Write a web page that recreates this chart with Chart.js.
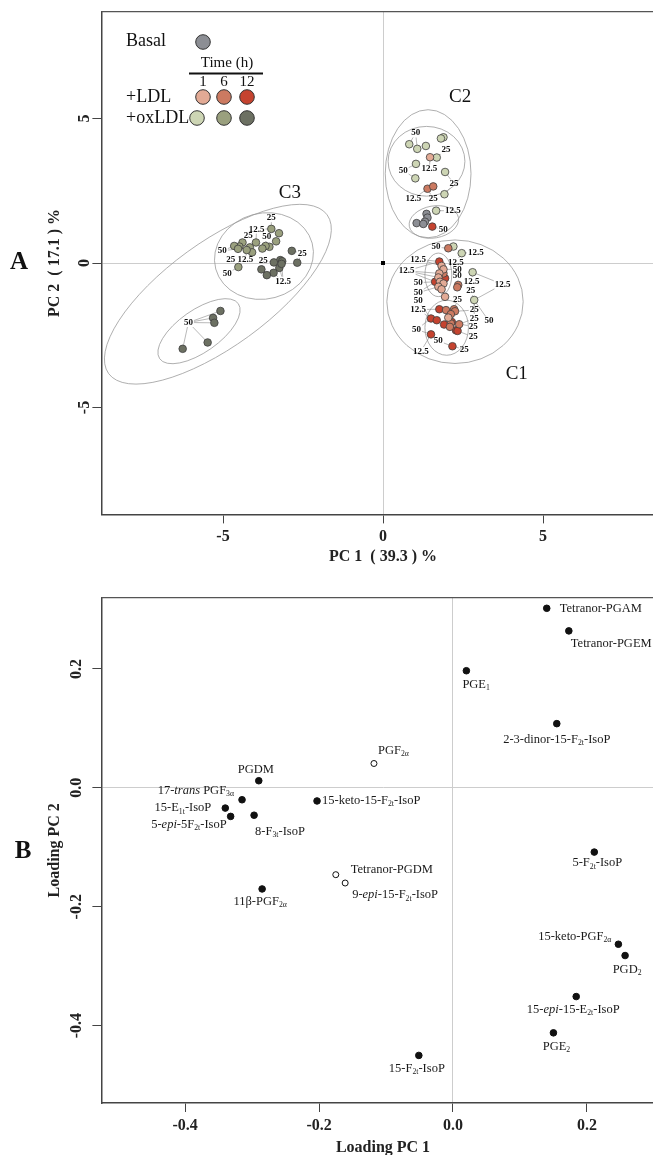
<!DOCTYPE html>
<html>
<head>
<meta charset="utf-8">
<script src="https://cdn.jsdelivr.net/npm/chart.js@4.4.0/dist/chart.umd.min.js"></script>
<style>
    html, body { margin: 0; padding: 0; background: #fff; overflow: hidden; width: 653px; height: 1155px; }
    .box { position: absolute; left: 0; width: 680px; height: 580px; }
    #boxA { top: 0; }
    #boxB { top: 585px; }
</style>
</head>
<body>
<div class="box" id="boxA"><canvas id="chartA"></canvas></div>
<div class="box" id="boxB"><canvas id="chartB"></canvas></div>
<script>
//Scores de l'ACP (panneau A), un tableau par groupe
const ptsBasal = [[1.36, 1.70], [1.39, 1.57], [1.31, 1.43], [1.05, 1.38], [1.26, 1.35]];
const ptsLDL1 = [[1.47, 3.66], [1.83, -0.10], [1.89, -0.22], [1.76, -0.36], [1.73, -0.50], [1.78, -0.65], [1.89, -0.71], [1.73, -0.82], [1.83, -0.91], [1.94, -1.17], [2.04, -1.89]];
const ptsLDL6 = [[1.39, 2.57], [1.57, 2.65], [2.04, 0.51], [1.89, -0.36], [2.35, -0.76], [2.32, -0.84], [1.97, -1.63], [2.22, -1.60], [2.25, -1.67], [2.12, -1.77], [2.12, -2.09], [2.09, -2.21], [2.38, -2.12]];
const ptsLDL12 = [[1.54, 1.26], [1.76, 0.05], [1.94, -0.53], [1.63, -0.65], [1.76, -1.60], [1.50, -1.92], [1.68, -1.98], [2.15, -2.04], [1.91, -2.13], [2.28, -2.33], [2.33, -2.35], [1.50, -2.47], [2.17, -2.88]];
const ptsOx1 = [[1.89, 4.35], [1.81, 4.31], [0.82, 4.11], [1.07, 3.95], [1.34, 4.05], [1.68, 3.65], [1.03, 3.43], [1.01, 2.93], [1.94, 3.15], [1.92, 2.38], [1.66, 1.81], [2.20, 0.57], [2.46, 0.34], [2.80, -0.32], [2.85, -1.28]];
const ptsOx6 = [[-3.49, 1.18], [-3.25, 1.03], [-3.34, 0.75], [-3.55, 0.56], [-3.67, 0.59], [-3.77, 0.50], [-3.97, 0.71], [-4.16, 0.54], [-4.09, 0.37], [-4.39, 0.71], [-4.49, 0.57], [-4.65, 0.59], [-4.53, 0.49], [-4.52, -0.14], [-4.26, 0.45]];
const ptsOx12 = [[-2.85, 0.42], [-2.68, 0.01], [-3.21, 0.10], [-3.41, 0.02], [-3.15, 0.06], [-3.24, -0.17], [-3.42, -0.34], [-3.63, -0.42], [-3.80, -0.22], [-3.17, -0.03], [-5.08, -1.66], [-5.31, -1.90], [-5.27, -2.07], [-5.48, -2.75], [-6.26, -2.97]];

const groupNames = ['Basal', '+LDL 1 h', '+LDL 6 h', '+LDL 12 h', '+oxLDL 1 h', '+oxLDL 6 h', '+oxLDL 12 h'];
const groupPoints = [ptsBasal, ptsLDL1, ptsLDL6, ptsLDL12, ptsOx1, ptsOx6, ptsOx12];
const groupColors = ['#8c8e94', '#e2aa95', '#cc7a61', '#c5432f', '#cdd5b4', '#9aa07e', '#6c7062'];

//Légende et étiquettes de concentration : [texte, x, y, nombre de traits]
const legendRows = ['Basal', '+LDL', '+oxLDL'];
const timeLabels = ['1', '6', '12'];
const doseLabels = [
    ['25', -3.49, 1.57, 1], ['12.5', -3.95, 1.17, 2], ['25', -4.21, 0.94, 2], ['50', -3.63, 0.91, 2],
    ['50', -5.02, 0.42, 2], ['25', -4.76, 0.13, 1], ['12.5', -4.30, 0.10, 2], ['50', -4.87, -0.36, 1],
    ['25', -3.74, 0.08, 2], ['25', -2.52, 0.34, 2], ['12.5', -3.12, -0.63, 3], ['50', -6.08, -2.06, 5],
    ['50', 1.02, 4.50, 2], ['25', 1.97, 3.92, 1], ['50', 0.63, 3.20, 2], ['12.5', 1.45, 3.25, 1],
    ['25', 2.22, 2.74, 2], ['12.5', 0.95, 2.22, 1], ['25', 1.57, 2.22, 1], ['12.5', 2.18, 1.81, 1], ['50', 1.88, 1.15, 1],
    ['50', 1.66, 0.55, 1], ['12.5', 2.90, 0.37, 1], ['12.5', 1.10, 0.13, 2], ['12.5', 2.28, 0.02, 1],
    ['12.5', 0.74, -0.27, 4], ['50', 2.32, -0.22, 1], ['50', 2.32, -0.45, 1], ['50', 1.10, -0.68, 1],
    ['12.5', 2.77, -0.63, 1], ['12.5', 3.74, -0.74, 2], ['25', 2.74, -0.96, 1], ['50', 1.10, -1.03, 2],
    ['50', 1.10, -1.32, 1], ['25', 2.33, -1.26, 1], ['12.5', 1.10, -1.61, 2], ['25', 2.85, -1.63, 2],
    ['25', 2.85, -1.92, 2], ['50', 3.31, -2.01, 1], ['25', 2.82, -2.19, 1], ['50', 1.05, -2.30, 2],
    ['25', 2.82, -2.56, 1], ['50', 1.73, -2.70, 2], ['12.5', 1.18, -3.06, 1], ['25', 2.54, -2.99, 1]
];

//Groupes C1, C2, C3 : nom, position, ellipses [cx, cy, demi-axe a, demi-axe b, rotation en degrés]
const clusterNames = ['C1', 'C2', 'C3'];
const clusterPos = [[4.18, -3.83], [2.41, 5.73], [-2.91, 2.42]];
const ellipses = [
    [-5.16, -1.08, 4.22, 1.63, 36], [-3.72, 0.24, 1.56, 1.34, 15], [-5.75, -2.36, 1.50, 0.66, 35],
    [1.41, 3.09, 1.34, 2.00, 0], [1.36, 3.52, 1.20, 1.09, 0], [1.59, 1.42, 0.78, 0.50, 10],
    [2.25, -1.34, 2.13, 1.93, 0], [1.73, -0.41, 0.42, 0.68, 0], [1.99, -2.24, 0.68, 0.86, 0]
];

//Loadings (panneau B)
const loadNames = ['Tetranor-PGAM', 'Tetranor-PGEM', 'PGE<sub>1</sub>', '2-3-dinor-15-F<sub>2t</sub>-IsoP', 'PGF<sub>2α</sub>',
    'PGDM', '17-<i>trans</i> PGF<sub>3α</sub>', '15-keto-15-F<sub>2t</sub>-IsoP', '15-E<sub>1t</sub>-IsoP', '5-<i>epi</i>-5F<sub>2t</sub>-IsoP',
    '8-F<sub>3t</sub>-IsoP', '5-F<sub>2t</sub>-IsoP', 'Tetranor-PGDM', '9-<i>epi</i>-15-F<sub>2t</sub>-IsoP', '11β-PGF<sub>2α</sub>',
    '15-keto-PGF<sub>2α</sub>', 'PGD<sub>2</sub>', '15-<i>epi</i>-15-E<sub>2t</sub>-IsoP', 'PGE<sub>2</sub>', '15-F<sub>2t</sub>-IsoP'];
const loadPC1 = [0.140, 0.173, 0.020, 0.155, -0.118, -0.290, -0.315, -0.203, -0.340, -0.332, -0.297, 0.211, -0.175, -0.161, -0.285, 0.247, 0.257, 0.184, 0.150, -0.051];
const loadPC2 = [0.302, 0.264, 0.197, 0.108, 0.041, 0.012, -0.020, -0.022, -0.034, -0.048, -0.046, -0.108, -0.146, -0.160, -0.170, -0.263, -0.282, -0.351, -0.412, -0.450];
const loadOpen = [0, 0, 0, 0, 1, 0, 0, 0, 0, 0, 0, 0, 1, 1, 0, 0, 0, 0, 0, 0];

//Graduations
const xTicksA = [-5, 0, 5];
const yTicksA = [-5, 0, 5];
const xTicksB = [-0.4, -0.2, 0, 0.2];
const yTicksB = [-0.4, -0.2, 0, 0.2];

//Placement des étiquettes du panneau B (décalage en px, alignement)
const labelOffsets = [[13, 0, 'left'], [2, 13, 'left'], [-4, 14, 'left'], [0, 16, 'center'], [4, -13, 'left'],
    [-3, -11, 'center'], [-8, -9, 'right'], [5, 0, 'left'], [-14, 0, 'right'], [-4, 8, 'right'],
    [1, 16, 'left'], [3, 11, 'center'], [15, -5, 'left'], [7, 12, 'left'], [-2, 13, 'center'],
    [-7, -8, 'right'], [2, 14, 'center'], [-3, 13, 'center'], [3, 14, 'center'], [-2, 13, 'center']];

const serif = '"Liberation Serif", "Times New Roman", serif';
Chart.defaults.font.family = serif;
const tickFont = {family: serif, size: 16, weight: 'bold'};
const titleFont = {family: serif, size: 16, weight: 'bold'};

function zeroGrid(c) {
    return c.tick && c.tick.value === 0 ? '#cdcdcd' : 'rgba(0,0,0,0)';
}

//Texte avec indices et italiques
function drawRich(ctx, str, x, y, align, size) {
    let parts = [];
    let re = /<(sub|i)>(.*?)<\/\1>/g;
    let last = 0, m;
    while ((m = re.exec(str))) {
        if (m.index > last) parts.push({t: str.slice(last, m.index), k: ''});
        parts.push({t: m[2], k: m[1]});
        last = re.lastIndex;
    }
    if (last < str.length) parts.push({t: str.slice(last), k: ''});
    let fontOf = k => k === 'sub' ? (size * 0.62) + 'px ' + serif : (k === 'i' ? 'italic ' : '') + size + 'px ' + serif;
    let w = 0;
    parts.forEach(p => { ctx.font = fontOf(p.k); p.w = ctx.measureText(p.t).width; w += p.w; });
    let cx = align === 'left' ? x : (align === 'right' ? x - w : x - w / 2);
    ctx.textAlign = 'left';
    ctx.textBaseline = 'middle';
    parts.forEach(p => {
        ctx.font = fontOf(p.k);
        ctx.fillText(p.t, cx, y + (p.k === 'sub' ? size * 0.28 : 0));
        cx += p.w;
    });
}

function circle(ctx, x, y, r, color) {
    ctx.beginPath();
    ctx.arc(x, y, r, 0, 2 * Math.PI);
    ctx.fillStyle = color;
    ctx.fill();
    ctx.strokeStyle = '#333';
    ctx.lineWidth = 1;
    ctx.stroke();
}

function topFrame(ctx, area) {
    ctx.save();
    ctx.strokeStyle = '#555';
    ctx.lineWidth = 1.2;
    ctx.beginPath();
    ctx.moveTo(area.left, area.top);
    ctx.lineTo(area.right, area.top);
    ctx.stroke();
    ctx.restore();
}

//Décor du panneau A : ellipses, traits, étiquettes, légende
const decorA = {
    id: 'decorA',
    beforeDatasetsDraw(chart) {
        const {ctx, chartArea, scales: {x, y}} = chart;
        const k = x.getPixelForValue(1) - x.getPixelForValue(0);
        ctx.save();
        ctx.beginPath();
        ctx.rect(chartArea.left, chartArea.top, chartArea.right - chartArea.left, chartArea.bottom - chartArea.top);
        ctx.clip();
        ctx.strokeStyle = '#9a9a9a';
        ctx.lineWidth = 0.8;
        ellipses.forEach(e => {
            ctx.beginPath();
            ctx.ellipse(x.getPixelForValue(e[0]), y.getPixelForValue(e[1]), e[2] * k, e[3] * k, -e[4] * Math.PI / 180, 0, 2 * Math.PI);
            ctx.stroke();
        });

        //Traits entre étiquettes et points les plus proches
        let pts = [];
        chart.data.datasets.forEach((ds, i) => chart.getDatasetMeta(i).data.forEach(el => pts.push([el.x, el.y])));
        ctx.font = 'bold 9px ' + serif;
        ctx.strokeStyle = '#8a8a8a';
        ctx.lineWidth = 0.6;
        doseLabels.forEach(l => {
            let lx = x.getPixelForValue(l[1]), ly = y.getPixelForValue(l[2]);
            let hw = ctx.measureText(l[0]).width / 2 + 1, hh = 4.5;
            pts.map(p => [p[0], p[1], Math.hypot(p[0] - lx, p[1] - ly)])
                .sort((a, b) => a[2] - b[2]).slice(0, l[3]).forEach(p => {
                let dx = p[0] - lx, dy = p[1] - ly;
                let t = Math.min(dx ? hw / Math.abs(dx) : 1e9, dy ? hh / Math.abs(dy) : 1e9);
                if (t >= 1) return;
                ctx.beginPath();
                ctx.moveTo(lx + dx * t, ly + dy * t);
                ctx.lineTo(p[0], p[1]);
                ctx.stroke();
            });
        });

        //Petit carré à l'origine
        ctx.fillStyle = '#000';
        ctx.fillRect(x.getPixelForValue(0) - 2, y.getPixelForValue(0) - 2, 4, 4);
        ctx.restore();
    },
    afterDatasetsDraw(chart) {
        const {ctx, chartArea, scales: {x, y}} = chart;
        ctx.save();
        ctx.fillStyle = '#111';
        ctx.textAlign = 'center';
        ctx.textBaseline = 'middle';
        ctx.font = 'bold 9px ' + serif;
        doseLabels.forEach(l => ctx.fillText(l[0], x.getPixelForValue(l[1]), y.getPixelForValue(l[2])));

        ctx.font = '19px ' + serif;
        clusterNames.forEach((n, i) => ctx.fillText(n, x.getPixelForValue(clusterPos[i][0]), y.getPixelForValue(clusterPos[i][1])));

        //Légende
        ctx.textAlign = 'left';
        ctx.font = '18px ' + serif;
        ctx.fillText(legendRows[0], 126, 41);
        ctx.fillText(legendRows[1], 126, 97);
        ctx.fillText(legendRows[2], 126, 118);
        ctx.textAlign = 'center';
        ctx.font = '15px ' + serif;
        ctx.fillText('Time (h)', 227, 63);
        let cols = [203, 224, 247];
        timeLabels.forEach((t, i) => ctx.fillText(t, cols[i], 82));
        ctx.strokeStyle = '#111';
        ctx.lineWidth = 1.8;
        ctx.beginPath();
        ctx.moveTo(189, 73.5);
        ctx.lineTo(263, 73.5);
        ctx.stroke();
        circle(ctx, 203, 42, 7.3, groupColors[0]);
        for (let i = 0; i < 3; i++) {
            circle(ctx, cols[i], 97, 7.3, groupColors[1 + i]);
            circle(ctx, i === 0 ? 197 : cols[i], 118, 7.3, groupColors[4 + i]);
        }

        //Lettre du panneau
        ctx.fillStyle = '#111';
        ctx.font = 'bold 25px ' + serif;
        ctx.fillText('A', 19, y.getPixelForValue(0));
        ctx.restore();
        topFrame(ctx, chartArea);
    }
};

//Décor du panneau B : noms des composés
const decorB = {
    id: 'decorB',
    afterDatasetsDraw(chart) {
        const {ctx, chartArea, scales: {x, y}} = chart;
        ctx.save();
        ctx.fillStyle = '#1a1a1a';
        loadNames.forEach((n, i) => {
            let o = labelOffsets[i];
            drawRich(ctx, n, x.getPixelForValue(loadPC1[i]) + o[0], y.getPixelForValue(loadPC2[i]) + o[1], o[2], 12.5);
        });
        ctx.font = 'bold 25px ' + serif;
        ctx.textAlign = 'center';
        ctx.textBaseline = 'middle';
        ctx.fillStyle = '#111';
        ctx.fillText('B', 23, 267);
        ctx.restore();
        topFrame(ctx, chartArea);
    }
};

function axisX(min, max, ticks, height, title, titlePad, tickPad, fmt) {
    return {
        type: 'linear', min: min, max: max,
        afterBuildTicks: ax => { ax.ticks = ticks.map(v => ({value: v})); },
        afterFit: ax => { ax.height = height; },
        grid: {color: zeroGrid, tickColor: '#444', tickLength: 9, lineWidth: 1},
        border: {color: '#444', width: 1.5},
        ticks: {font: tickFont, color: '#222', padding: tickPad, maxRotation: 0, callback: fmt},
        title: {display: true, text: title, font: titleFont, color: '#222', padding: {top: 0, bottom: titlePad}}
    };
}

function axisY(min, max, ticks, title, tickPad, fmt) {
    return {
        type: 'linear', min: min, max: max,
        afterBuildTicks: ax => { ax.ticks = ticks.map(v => ({value: v})); },
        afterFit: ax => { ax.width = 101.4; },
        grid: {color: zeroGrid, tickColor: '#444', tickLength: 9, lineWidth: 1},
        border: {color: '#444', width: 1.5},
        ticks: {font: tickFont, color: '#222', padding: tickPad, minRotation: 90, maxRotation: 90, crossAlign: 'center', callback: fmt},
        title: {display: true, text: title, font: titleFont, color: '#222', padding: {top: 45.4, bottom: 0}}
    };
}

//Graphe A : scores
new Chart(document.getElementById('chartA').getContext('2d'), {
    type: 'scatter',
    data: {
        datasets: groupPoints.map((pts, i) => ({
            label: groupNames[i],
            data: pts.map(p => ({x: p[0], y: p[1]})),
            backgroundColor: groupColors[i],
            borderColor: '#3d3d3d',
            borderWidth: 0.8,
            pointRadius: 3.8
        }))
    },
    options: {
        responsive: true,
        maintainAspectRatio: false,
        animation: false,
        layout: {padding: {top: 11.6, right: 15.4, left: 0, bottom: 0}},
        plugins: {legend: {display: false}, tooltip: {enabled: false}},
        scales: {
            x: axisX(-8.8, 8.8, xTicksA, 65.6, 'PC 1  ( 39.3 ) %', 13.4, 4, v => String(v)),
            y: axisY(-8.7, 8.7, yTicksA, 'PC 2  ( 17.1 ) %', 1, v => String(v))
        }
    },
    plugins: [decorA]
});

//Graphe B : loadings
let filledPts = [], openPts = [];
for (let i = 0; i < loadNames.length; i++) {
    (loadOpen[i] ? openPts : filledPts).push({x: loadPC1[i], y: loadPC2[i]});
}

new Chart(document.getElementById('chartB').getContext('2d'), {
    type: 'scatter',
    data: {
        datasets: [{
            label: 'loadings',
            data: filledPts,
            backgroundColor: '#111',
            borderColor: '#111',
            borderWidth: 1,
            pointRadius: 3.3
        }, {
            label: 'loadings (o)',
            data: openPts,
            backgroundColor: '#fff',
            borderColor: '#111',
            borderWidth: 1,
            pointRadius: 3
        }]
    },
    options: {
        responsive: true,
        maintainAspectRatio: false,
        animation: false,
        layout: {padding: {top: 11.5, right: 15.4, left: 0, bottom: 0}},
        plugins: {legend: {display: false}, tooltip: {enabled: false}},
        scales: {
            x: axisX(-0.525, 0.316, xTicksB, 62, 'Loading PC 1', 7.4, 4.5, v => v.toFixed(1)),
            y: axisY(-0.53, 0.32, yTicksB, 'Loading PC 2', 3, v => v.toFixed(1))
        }
    },
    plugins: [decorB]
});
</script>
</body>
</html>
